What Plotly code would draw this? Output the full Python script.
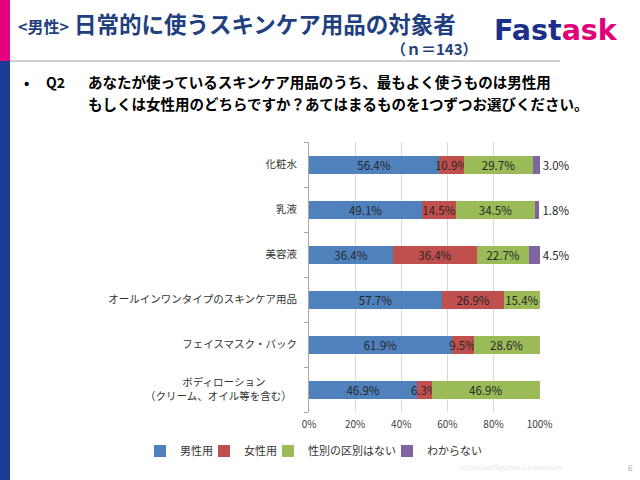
import plotly.graph_objects as go

categories = ["化粧水", "乳液", "美容液", "オールインワンタイプのスキンケア用品",
              "フェイスマスク・パック", "ボディローション<br>（クリーム、オイル等を含む）"]
tick_labels = ["化粧水", "乳液", "美容液", "オールインワンタイプのスキンケア用品",
               "フェイスマスク・パック",
               "ボディローション\u3000\u3000\u3000<br>（クリーム、オイル等を含む）\u2002"]
series_names = ["男性用", "女性用", "性別の区別はない", "わからない"]
male = [56.4, 49.1, 36.4, 57.7, 61.9, 46.9]
female = [10.9, 14.5, 36.4, 26.9, 9.5, 6.3]
nodiff = [29.7, 34.5, 22.7, 15.4, 28.6, 46.9]
unknown = [3.0, 1.8, 4.5, 0.0, 0.0, 0.0]
x_ticks = [0, 20, 40, 60, 80, 100]
x_tick_labels = ["0%", "20%", "40%", "60%", "80%", "100%"]
colors = ["#4F81BD", "#C0504D", "#9BBB59", "#8064A2"]

FONT = "Noto Sans CJK JP"
L, R, T, B = 309, 540, 142, 412


def px(x):
    return (x - L) / (R - L)


def py(y):
    return (B - y) / (B - T)


legend_ids = ["legend", "legend2", "legend3", "legend4"]
legend_x = [140, 204, 268, 387]

fig = go.Figure()
for i, (name, vals) in enumerate(zip(series_names[:3], [male, female, nodiff])):
    fig.add_trace(go.Bar(
        y=categories, x=vals, name=name, orientation="h", legend=legend_ids[i],
        marker=dict(color=colors[i], line=dict(width=0)),
        text=[f"{v:.1f}%" for v in vals], textposition="inside", textangle=0,
        insidetextanchor="middle", constraintext="none",
        textfont=dict(family=FONT, size=11.5, color="#262626"),
        cliponaxis=False,
    ))
fig.add_trace(go.Bar(
    y=categories, x=unknown, name=series_names[3], orientation="h", legend=legend_ids[3],
    marker=dict(color=colors[3], line=dict(width=0)),
    text=[f"{v:.1f}%" if v > 0 else "" for v in unknown], textposition="outside",
    textangle=0, constraintext="none",
    textfont=dict(family=FONT, size=11.5, color="#262626"),
    cliponaxis=False,
))

fig.update_layout(
    width=640, height=480,
    barmode="stack", bargap=0.6,
    paper_bgcolor="white", plot_bgcolor="white",
    margin=dict(l=L, r=640 - R, t=T, b=480 - B, autoexpand=False),
    font=dict(family=FONT, size=10, color="#333333"),
    showlegend=True,
)
for lid, lx in zip(legend_ids, legend_x):
    fig.update_layout({lid: dict(orientation="h", x=px(lx), y=py(451), xanchor="left",
                                 yanchor="middle",
                                 font=dict(family=FONT, size=11, color="#333333"),
                                 bgcolor="rgba(0,0,0,0)")})

fig.update_xaxes(range=[0, 100.15], tickvals=x_ticks, ticktext=x_tick_labels,
                 showgrid=True, gridcolor="#D9D9D9", gridwidth=1,
                 zeroline=False, showline=False, ticklabelstandoff=5,
                 tickfont=dict(family=FONT, size=10, color="#404040"))
fig.update_yaxes(autorange="reversed", tickvals=categories, ticktext=tick_labels,
                 showline=True, linecolor="#A6A6A6", linewidth=1,
                 ticks="outside", tickson="boundaries", ticklen=4, tickcolor="#A6A6A6",
                 ticklabelstandoff=9,
                 tickfont=dict(family=FONT, size=10.5, color="#333333"))

# decorations
fig.add_shape(type="rect", xref="paper", yref="paper", x0=px(0), x1=px(10),
              y0=py(0), y1=py(61), fillcolor="#E4007F", line=dict(width=0), layer="above")
fig.add_shape(type="rect", xref="paper", yref="paper", x0=px(0), x1=px(10),
              y0=py(61), y1=py(480), fillcolor="#1B3A94", line=dict(width=0), layer="above")
fig.add_shape(type="line", xref="paper", yref="paper", x0=px(10), x1=px(560),
              y0=py(61), y1=py(61), line=dict(color="#BFBFBF", width=1.5))

title_color = "#1F3F7F"


def ann(x, y, text, size, color="#000000", xanchor="left", family=FONT):
    fig.add_annotation(xref="paper", yref="paper", x=px(x), y=py(y),
                       xanchor=xanchor, yanchor="middle", showarrow=False,
                       text=text, font=dict(family=family, size=size, color=color))


ann(16, 23, "<b><span style='font-size:16px'>&lt;男性&gt;</span> 日常的に使うスキンケア用品の対象者</b>",
    22.5, title_color)
ann(480, 48, "<b>（ｎ＝143）</b>", 15, title_color, xanchor="right")
ann(492, 30, "<b><span style='color:#1B2F8A'>Fast</span><span style='color:#E2007A'>ask</span></b>",
    28.5, family="DejaVu Sans")
ann(22, 82, "<b>•</b>", 14)
ann(44, 82, "<b>Q2</b>", 14)
ann(86, 82, "<b>あなたが使っているスキンケア用品のうち、最もよく使うものは男性用</b>", 14.5)
ann(86, 104, "<b>もしくは女性用のどちらですか？あてはまるものを1つずつお選びください。</b>", 14.5)
ann(510, 467, "©2015JustSystems Corporation", 7, "#E6E6E6", xanchor="center")
ann(630, 467, "6", 8, "#AAAAAA", xanchor="center")

# the page's default body margin would shift the figure by 8px; remove it
fig.write_html("out.html", config={"displayModeBar": False},
               post_script="document.body.style.margin='0';")
